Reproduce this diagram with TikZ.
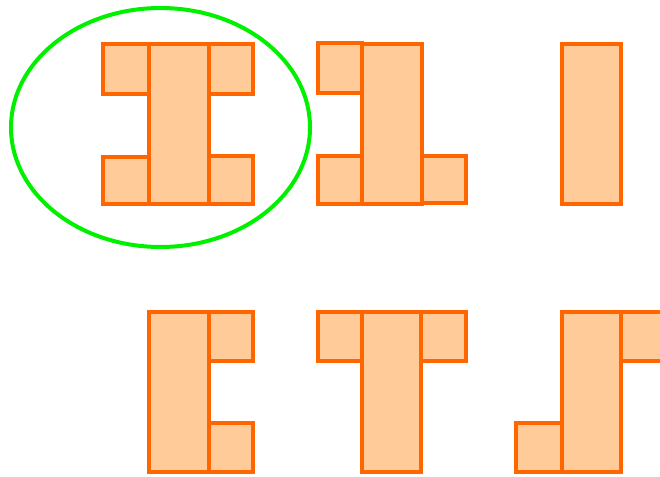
\documentclass[tikz,border=0pt]{standalone}
\definecolor{cellfill}{RGB}{255,204,153}
\definecolor{celldraw}{RGB}{255,102,0}
\definecolor{ringgreen}{RGB}{0,240,0}
\tikzset{
  cell/.style={fill=cellfill, draw=celldraw, line width=4pt, line join=miter},
  ring/.style={draw=ringgreen, line width=4pt}
}
\begin{document}
\begin{tikzpicture}[x=1pt,y=-1pt]
\useasboundingbox (0,0) rectangle (660,476);
\clip (0,0) rectangle (660,476);
% figure 1
\path[cell] (149,44) rectangle (209,204);
\path[cell] (103,44) rectangle (149,94);
\path[cell] (209,44) rectangle (253,94);
\path[cell] (103,157) rectangle (149,204);
\path[cell] (209,156) rectangle (253,204);
\draw[ring] (160.5,127.5) ellipse [x radius=149.5, y radius=119.5];
% figure 2
\path[cell] (362,44) rectangle (422,204);
\path[cell] (318,43) rectangle (362,93);
\path[cell] (318,156) rectangle (362,204);
\path[cell] (422,156) rectangle (466,203);
% figure 3
\path[cell] (562,44) rectangle (621,204);
% figure 4
\path[cell] (149,312) rectangle (209,472);
\path[cell] (209,312) rectangle (253,361);
\path[cell] (209,423) rectangle (253,472);
% figure 5
\path[cell] (362,312) rectangle (421,472);
\path[cell] (318,312) rectangle (362,361);
\path[cell] (421,312) rectangle (466,361);
% figure 6
\path[cell] (562,312) rectangle (621,472);
\path[cell] (516,423) rectangle (562,472);
\path[cell] (621,312) rectangle (667,361);
\end{tikzpicture}
\end{document}
